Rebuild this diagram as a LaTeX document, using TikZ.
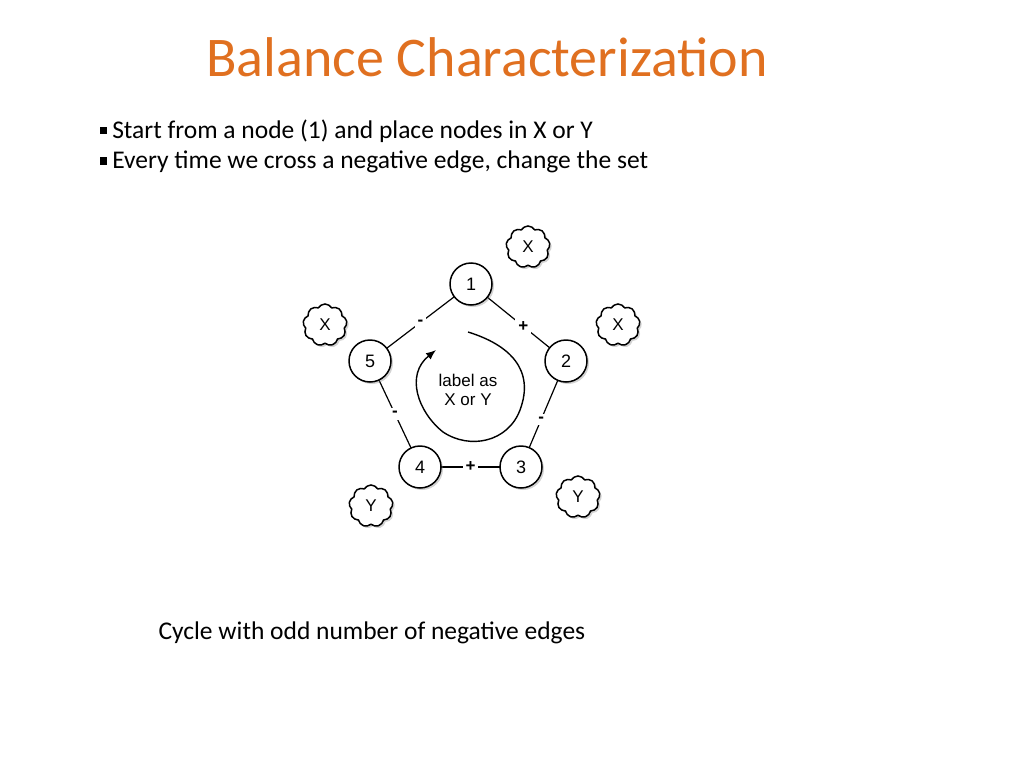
\documentclass[tikz,border=0pt]{standalone}
\usepackage{fontspec}
\setmainfont{Carlito}
\newfontfamily\arl{Liberation Sans}
\usetikzlibrary{shapes.symbols,shadows,arrows.meta}
\definecolor{ttl}{HTML}{E07020}
\begin{document}
\begin{tikzpicture}[x=1pt,y=-1pt,
  vtx/.style={circle,draw,line width=1.5pt,fill=white,minimum size=42pt,inner sep=0pt,font=\arl\fontsize{18}{18}\selectfont,drop shadow={shadow xshift=2pt,shadow yshift=-2pt,opacity=0.35}},
  cl/.style={cloud,cloud puffs=9,cloud puff arc=120,aspect=1,draw,line width=1.5pt,fill=white,minimum width=44pt,minimum height=42pt,inner sep=0pt,font=\arl\fontsize{17}{17}\selectfont,drop shadow={shadow xshift=2pt,shadow yshift=-2pt,opacity=0.35}},
  sg/.style={fill=white,inner sep=3pt,font=\arl\bfseries\fontsize{17}{17}\selectfont},
  ed/.style={line width=1.2pt}]
\useasboundingbox (0,0) rectangle (1024,768);
\node[text=ttl,font=\fontsize{56}{56}\selectfont] (title) at (487,57) {Balance Characterization};
\node[anchor=west,font=\fontsize{25.5}{25.5}\selectfont] (b1) at (96,131) {\rule[0.15em]{0.3em}{0.3em}\hspace{0.2em}Start from a node (1) and place nodes in X or Y};
\node[anchor=west,font=\fontsize{25.5}{25.5}\selectfont] (b2) at (96,162) {\rule[0.15em]{0.3em}{0.3em}\hspace{0.2em}Every time we cross a negative edge, change the set};
\node[anchor=west,font=\fontsize{25.5}{25.5}\selectfont] (cap) at (155,633) {Cycle with odd number of negative edges};
\coordinate (p1) at (471,284);
\coordinate (p2) at (566,361);
\coordinate (p3) at (521,467);
\coordinate (p4) at (420,467);
\coordinate (p5) at (370,361);
\draw[ed] (p1) -- node[sg,pos=0.55]{+} (p2);
\draw[ed] (p2) -- node[sg,pos=0.55]{-} (p3);
\draw[ed] (p3) -- node[sg]{+} (p4);
\draw[ed] (p4) -- node[sg]{-} (p5);
\draw[ed] (p5) -- node[sg,pos=0.5]{-} (p1);
\node[vtx] (n1) at (p1) {1};
\node[vtx] (n2) at (p2) {2};
\node[vtx] (n3) at (p3) {3};
\node[vtx] (n4) at (p4) {4};
\node[vtx] (n5) at (p5) {5};
\node[cl] (c1) at (528,247) {X};
\node[cl] (c2) at (618,325) {X};
\node[cl] (c3) at (325,325) {X};
\node[cl] (c4) at (371,506) {Y};
\node[cl] (c5) at (578,497) {Y};
\node[align=center,font=\arl\fontsize{17}{19}\selectfont] (lab) at (468,390) {label as\\X or Y};
\coordinate (a0) at (468,332);
\coordinate (a1) at (436,350);
\draw[line width=1.4pt,-{Latex[length=10pt,width=8pt]}] (a0) .. controls (510,345) and (535,370) .. (520,410) .. controls (508,442) and (470,450) .. (443,432) .. controls (418,412) and (405,375) .. (a1);
\end{tikzpicture}
\end{document}
